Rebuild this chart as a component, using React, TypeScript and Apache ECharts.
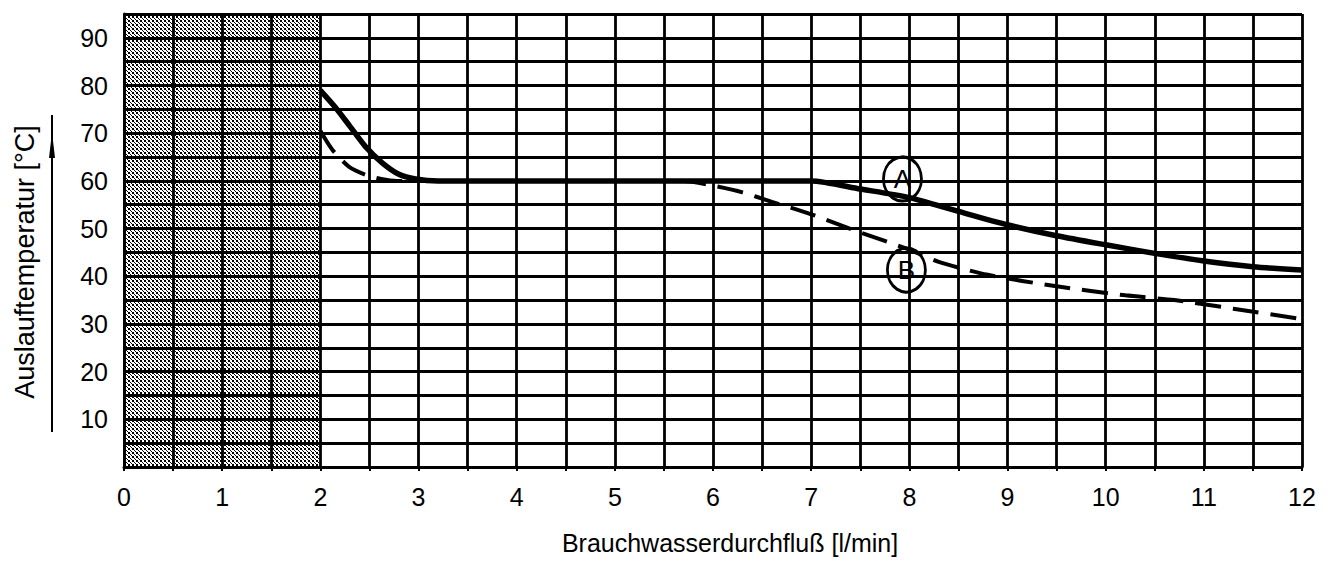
import React, { useEffect, useRef } from "react";
import * as echarts from "echarts";

// ---- data ----
const xMin = 0;
const xMax = 12;
const yMin = 0;
const yMax = 95;

const aFlow = [2.0, 2.15, 2.3, 2.46, 2.63, 2.8, 2.97, 3.2, 4, 5, 6, 7.0, 7.5, 8.0, 8.5, 9.0, 9.5, 10.0, 10.5, 11.0, 11.5, 12.0];
const aTemp = [79, 75.5, 71.5, 67.2, 63.8, 61.4, 60.4, 60, 60, 60, 60, 60, 58.3, 56.5, 53.6, 50.8, 48.5, 46.6, 44.8, 43.2, 42.0, 41.3];

const bFlow = [2.0, 2.12, 2.29, 2.46, 2.62, 2.78, 3.0, 4, 5, 5.7, 6.0, 6.3, 6.6, 7.0, 7.5, 8.0, 8.3, 8.8, 9.5, 10.2, 10.7, 11.3, 12.0];
const bTemp = [70.5, 66.6, 63.0, 61.3, 60.4, 60, 60, 60, 60, 60, 59, 57.6, 55.6, 53.0, 49.2, 45.6, 43.0, 40.3, 37.9, 36.0, 35.0, 33.2, 31.0];

const curveNames = ["A", "B"];
const curveLabelFlow = [7.93, 7.97];
const curveLabelTemp = [60.4, 41.3];

const shadedFrom = 0;
const shadedTo = 2;

const xAxisName = "Brauchwasserdurchfluß [l/min]";
const yAxisName = "Auslauftemperatur [°C]";

const FONT = "'Liberation Sans', Arial, sans-serif";

function makeStipple(): any {
  const c = document.createElement("canvas");
  c.width = 4;
  c.height = 4;
  const ctx = c.getContext("2d");
  if (ctx) {
    ctx.clearRect(0, 0, 4, 4);
    ctx.fillStyle = "#000";
    ctx.fillRect(0, 0, 2, 2);
    ctx.fillRect(2, 2, 1, 1);
    ctx.fillRect(3, 3, 1, 1);
  }
  return { image: c, repeat: "repeat" };
}

export default function App() {
  const ref = useRef<HTMLDivElement>(null);

  useEffect(() => {
    if (!ref.current) return;
    const chart = echarts.init(ref.current, undefined, { renderer: "svg" });

    const aData = aFlow.map((x, i) => [x, aTemp[i]]);
    const bData = bFlow.map((x, i) => [x, bTemp[i]]);
    const labelData = curveNames.map((n, i) => ({ name: n, value: [curveLabelFlow[i], curveLabelTemp[i]] }));

    const option: any = {
      animation: false,
      backgroundColor: "#fff",
      grid: { left: 124, right: 36, top: 14, bottom: 94, containLabel: false },
      xAxis: {
        type: "value",
        min: xMin,
        max: xMax,
        interval: 0.5,
        name: xAxisName,
        nameLocation: "middle",
        nameGap: 63,
        nameTextStyle: { fontSize: 25, color: "#000", fontFamily: FONT, padding: [0, 0, 0, 34] },
        axisLine: { show: true, lineStyle: { color: "#000", width: 3 } },
        axisTick: { show: true, length: 4, lineStyle: { color: "#000", width: 2 } },
        axisLabel: {
          fontSize: 25,
          color: "#000",
          fontFamily: FONT,
          margin: 17,
          formatter: (v: number) => (Number.isInteger(v) ? String(v) : ""),
        },
        splitLine: { show: true, lineStyle: { color: "#000", width: 2.8 } },
      },
      yAxis: {
        type: "value",
        min: yMin,
        max: yMax,
        interval: 5,
        axisLine: { show: true, lineStyle: { color: "#000", width: 3 } },
        axisTick: { show: false },
        axisLabel: {
          fontSize: 25,
          color: "#000",
          fontFamily: FONT,
          margin: 16,
          formatter: (v: number) => (v % 10 === 0 && v !== 0 ? String(v) : ""),
        },
        splitLine: { show: true, lineStyle: { color: "#000", width: 2.8 } },
      },
      graphic: [
        {
          type: "text",
          x: 25,
          y: 262,
          rotation: Math.PI / 2,
          style: {
            text: yAxisName,
            fontSize: 27,
            fontFamily: FONT,
            fill: "#000",
            align: "center",
            verticalAlign: "middle",
          },
        },
        {
          type: "line",
          shape: { x1: 52, y1: 115, x2: 52, y2: 432 },
          style: { stroke: "#000", lineWidth: 2 },
        },
        {
          type: "polygon",
          shape: { points: [[52, 132], [49, 158], [55, 158]] },
          style: { fill: "#000" },
        },
      ],
      series: [
        {
          type: "line",
          data: [],
          silent: true,
          markArea: {
            silent: true,
            itemStyle: { color: makeStipple(), opacity: 1 },
            data: [[{ xAxis: shadedFrom }, { xAxis: shadedTo }]],
          },
        },
        {
          name: "A",
          type: "line",
          data: aData,
          smooth: 0.25,
          symbol: "none",
          lineStyle: { color: "#000", width: 5.5 },
          z: 5,
        },
        {
          name: "B",
          type: "line",
          data: bData,
          smooth: 0.25,
          symbol: "none",
          lineStyle: { color: "#000", width: 4, type: [26, 12] },
          z: 4,
        },
        {
          type: "scatter",
          data: labelData,
          symbol: "circle",
          symbolSize: [38, 44],
          silent: true,
          itemStyle: { color: "rgba(255,255,255,0)", borderColor: "#000", borderWidth: 3, opacity: 1 },
          label: {
            show: true,
            position: "inside",
            formatter: "{b}",
            fontSize: 26,
            color: "#000",
            opacity: 1,
            fontFamily: FONT,
          },
          z: 6,
        },
      ],
    };

    chart.setOption(option);
    return () => chart.dispose();
  }, []);

  return <div ref={ref} style={{ width: 1338, height: 561, position: "absolute", left: 0, top: 0 }} />;
}
